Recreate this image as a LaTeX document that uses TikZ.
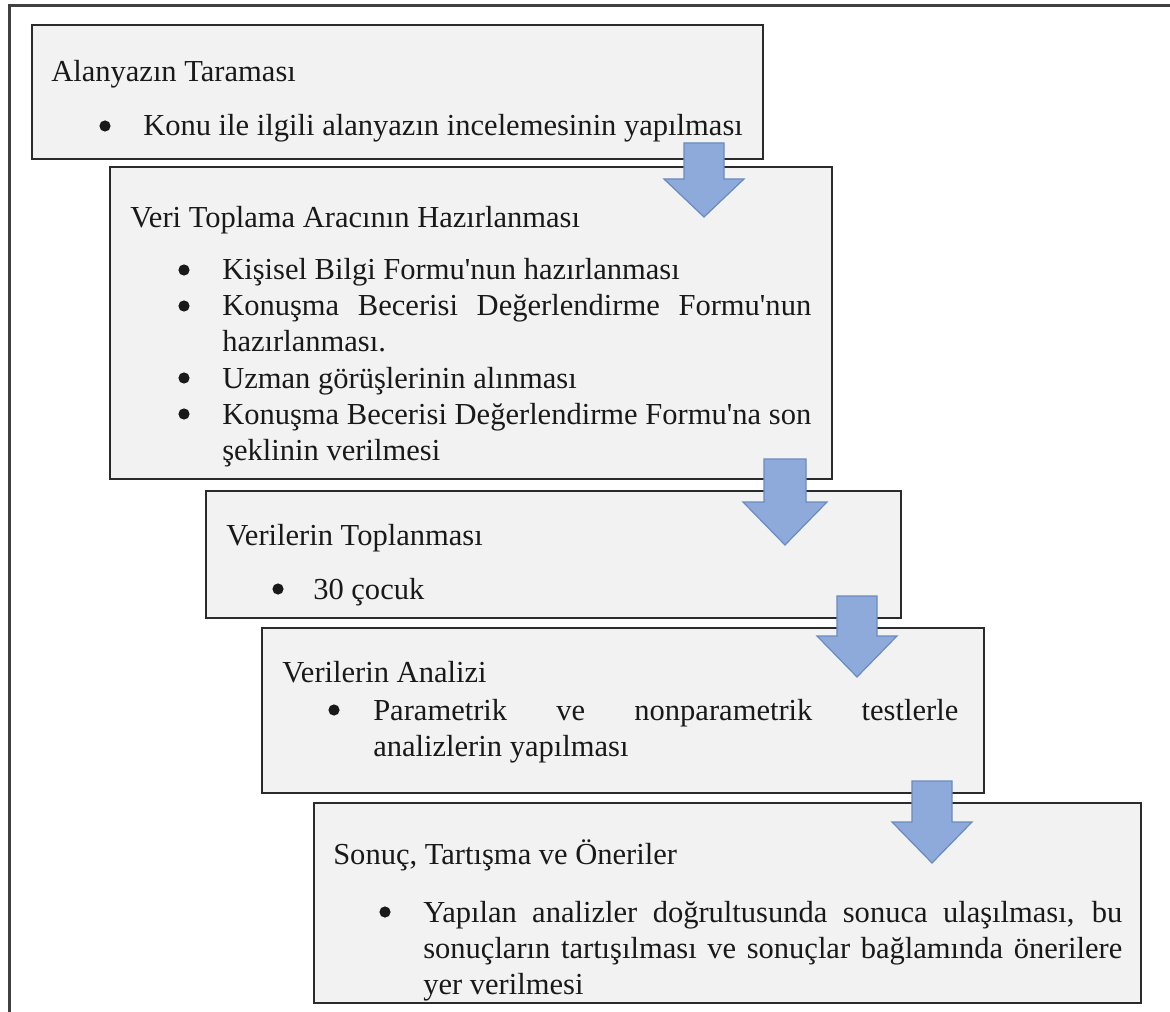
\documentclass[tikz,border=0pt]{standalone}
\usepackage{fontspec}
\setmainfont{Liberation Serif}[Ligatures=TeXOff]
\usetikzlibrary{fit}
\definecolor{boxfill}{HTML}{F2F2F2}
\definecolor{boxline}{HTML}{2B2B2B}
\definecolor{frameline}{HTML}{404040}
\definecolor{arrfill}{HTML}{8EAADB}
\definecolor{arrline}{HTML}{6A8BC0}
\newcommand{\jline}[2]{\makebox[#1][s]{#2}}
\begin{document}
\begin{tikzpicture}[x=0.75pt,y=-0.75pt,
  box/.style={draw=boxline, fill=boxfill, line width=1.4pt, inner sep=0pt, fit={#1}},
  txt/.style={anchor=base west, inner sep=0pt, text=black!90, font=\fontsize{22.9}{27}\selectfont},
  bul/.style={circle, fill=black!90, inner sep=0pt, minimum size=8.4pt},
  blockarrow/.style={fill=arrfill, draw=arrline, line width=0.9pt, line join=miter}]
\useasboundingbox (0,0) rectangle (1170,1012);
\fill[white] (0,0) rectangle (1170,1012);
% outer frame
\draw[frameline, line width=1.7pt] (9.5,1015) |- (1175,5.5);

% boxes
\node[box={(32,25) (763,159)}] (b1) {};
\node[box={(110,167) (832,479)}] (b2) {};
\node[box={(206,491) (901,618)}] (b3) {};
\node[box={(262,628) (984,793)}] (b4) {};
\node[box={(314,803) (1141,1003)}] (b5) {};

% box 1
\node[txt] (t1) at (51,82) {Alanyazın Taraması};
\node[bul] (u1) at (105,126) {};
\node[txt] (l1) at (143,136) {Konu ile ilgili alanyazın incelemesinin yapılması};

% box 2
\node[txt] (t2) at (130,228) {Veri Toplama Aracının Hazırlanması};
\node[bul] (u21) at (184,270) {};
\node[txt] (l21) at (222,280) {Kişisel Bilgi Formu'nun hazırlanması};
\node[bul] (u22) at (184,306) {};
\node[txt] (l22) at (222,316) {\jline{441.75pt}{Konuşma Becerisi Değerlendirme Formu'nun}};
\node[txt] (l22b) at (222,352) {hazırlanması.};
\node[bul] (u23) at (184,378) {};
\node[txt] (l23) at (222,388) {Uzman görüşlerinin alınması};
\node[bul] (u24) at (184,414) {};
\node[txt] (l24) at (222,424) {\jline{441.75pt}{Konuşma Becerisi Değerlendirme Formu'na son}};
\node[txt] (l24b) at (222,460) {şeklinin verilmesi};

% box 3
\node[txt] (t3) at (226,545) {Verilerin Toplanması};
\node[bul] (u3) at (278,589) {};
\node[txt] (l3) at (313,599) {30 çocuk};

% box 4
\node[txt] (t4) at (282,682) {Verilerin Analizi};
\node[bul] (u4) at (334,710) {};
\node[txt] (l4) at (373,720) {\jline{438.75pt}{Parametrik ve nonparametrik testlerle}};
\node[txt] (l4b) at (373,756) {analizlerin yapılması};

% box 5
\node[txt] (t5) at (333,864) {Sonuç, Tartışma ve Öneriler};
\node[bul] (u5) at (385,912) {};
\node[txt] (l5) at (423,922) {\jline{524.25pt}{Yapılan analizler doğrultusunda sonuca ulaşılması, bu}};
\node[txt] (l5b) at (423,958) {\jline{524.25pt}{sonuçların tartışılması ve sonuçlar bağlamında önerilere}};
\node[txt] (l5c) at (423,994) {yer verilmesi};

% block arrows
\coordinate (a1) at (704,143);
\coordinate (a2) at (785,459);
\coordinate (a3) at (857,596);
\coordinate (a4) at (932,781);
\draw[blockarrow] (a1) ++(-20,0) -- ++(40,0) -- ++(0,36) -- ++(20,0) -- ++(-40,38) -- ++(-40,-38) -- ++(20,0) -- cycle;
\draw[blockarrow] (a2) ++(-21,0) -- ++(42,0) -- ++(0,43) -- ++(21,0) -- ++(-42,43) -- ++(-42,-43) -- ++(21,0) -- cycle;
\draw[blockarrow] (a3) ++(-20,0) -- ++(40,0) -- ++(0,40) -- ++(20,0) -- ++(-40,41) -- ++(-40,-41) -- ++(20,0) -- cycle;
\draw[blockarrow] (a4) ++(-20,0) -- ++(40,0) -- ++(0,41) -- ++(20,0) -- ++(-40,41) -- ++(-40,-41) -- ++(20,0) -- cycle;
\end{tikzpicture}
\end{document}
